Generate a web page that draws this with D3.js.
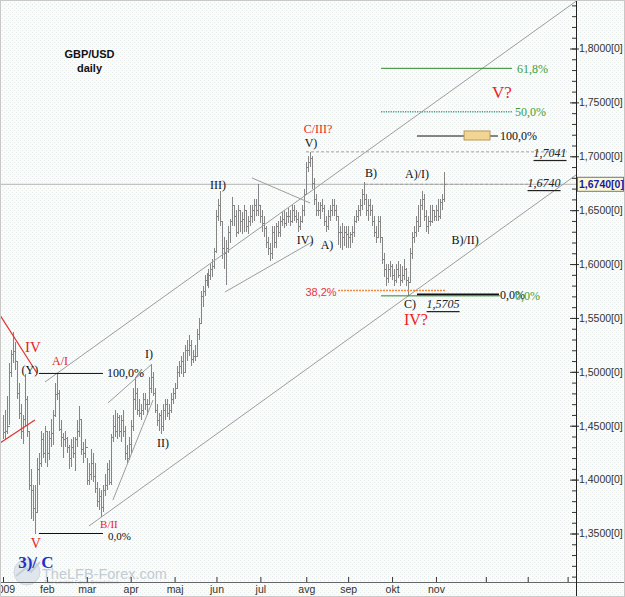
<!DOCTYPE html>
<html><head><meta charset="utf-8">
<script src="https://cdn.jsdelivr.net/npm/d3@7"></script>
<style>
html,body{margin:0;padding:0;background:#fff;}
svg{display:block;}
</style></head>
<body>
<svg id="chart" width="625" height="597"></svg>
<script>
// ---------- DATA ----------
const monthTickIdx = [0,22,42,64,86,107,129,152,173,195,217,242,263,283];
const monthLabels  = ["2009","feb","mar","apr","maj","jun","jul","avg","sep","okt","nov","","",""];
const priceTicks   = [1.35,1.40,1.45,1.50,1.55,1.60,1.65,1.70,1.75,1.80];
const firstOpen = 1.4450;
const lastPrice = 1.6740;

const highs = [
1.4600,1.4650,1.4780,1.5080,1.5200,1.5370,1.5280,1.5100,1.4900,1.4700,
1.4600,1.4980,1.4780,1.4450,1.4100,1.3950,1.3950,1.4200,1.4250,1.4450,
1.4430,1.4500,1.4450,1.4450,1.4560,1.4650,1.4900,1.4985,1.4830,1.4550,
1.4430,1.4450,1.4400,1.4320,1.4380,1.4400,1.4400,1.4550,1.4680,1.4550,
1.4350,1.4380,1.4200,1.4150,1.4280,1.4250,1.4150,1.3980,1.3920,1.3900,
1.3950,1.4050,1.4150,1.4180,1.4420,1.4600,1.4650,1.4620,1.4600,1.4600,
1.4650,1.4500,1.4320,1.4400,1.4550,1.4850,1.4950,1.4850,1.4750,1.4700,
1.4800,1.4800,1.4750,1.4950,1.5070,1.5000,1.4850,1.4700,1.4620,1.4650,
1.4700,1.4750,1.4750,1.4700,1.4800,1.4850,1.4900,1.5050,1.5100,1.5150,
1.5180,1.5250,1.5300,1.5340,1.5300,1.5200,1.5250,1.5400,1.5500,1.5750,
1.5800,1.5900,1.5920,1.5950,1.6000,1.6050,1.6150,1.6500,1.6600,1.6680,
1.6400,1.6250,1.6220,1.6350,1.6420,1.6620,1.6550,1.6500,1.6550,1.6500,
1.6480,1.6550,1.6500,1.6450,1.6550,1.6550,1.6600,1.6600,1.6740,1.6550,
1.6500,1.6450,1.6350,1.6250,1.6200,1.6350,1.6350,1.6380,1.6400,1.6450,
1.6480,1.6500,1.6480,1.6520,1.6500,1.6550,1.6550,1.6500,1.6480,1.6450,
1.6550,1.6700,1.6950,1.7000,1.7041,1.7000,1.6800,1.6650,1.6580,1.6580,
1.6600,1.6550,1.6450,1.6500,1.6550,1.6600,1.6600,1.6550,1.6450,1.6350,
1.6380,1.6350,1.6350,1.6350,1.6300,1.6350,1.6450,1.6500,1.6550,1.6600,
1.6700,1.6760,1.6650,1.6600,1.6600,1.6550,1.6450,1.6350,1.6450,1.6450,
1.6250,1.6100,1.6000,1.6000,1.6030,1.6000,1.5950,1.6000,1.6030,1.6000,
1.5980,1.6050,1.5960,1.5880,1.6150,1.6300,1.6350,1.6450,1.6550,1.6600,
1.6680,1.6650,1.6500,1.6450,1.6550,1.6550,1.6500,1.6550,1.6600,1.6600,
1.6650,1.6850];

const lows = [
1.4380,1.4380,1.4420,1.4510,1.4950,1.5080,1.5020,1.4750,1.4560,1.4380,
1.4330,1.4500,1.4400,1.3900,1.3630,1.3620,1.3500,1.3700,1.3950,1.4120,
1.4200,1.4150,1.4120,1.4180,1.4300,1.4320,1.4580,1.4740,1.4450,1.4300,
1.4200,1.4300,1.4250,1.4100,1.4120,1.4200,1.4080,1.4300,1.4400,1.4230,
1.4150,1.4200,1.3950,1.3950,1.4000,1.3980,1.3880,1.3750,1.3720,1.3650,
1.3700,1.3850,1.3900,1.3950,1.3950,1.4350,1.4400,1.4380,1.4400,1.4350,
1.4400,1.4180,1.4150,1.4180,1.4250,1.4450,1.4650,1.4600,1.4580,1.4550,
1.4600,1.4650,1.4600,1.4700,1.4800,1.4780,1.4620,1.4500,1.4450,1.4420,
1.4450,1.4550,1.4580,1.4550,1.4620,1.4700,1.4750,1.4850,1.4950,1.4980,
1.4950,1.5000,1.5100,1.5150,1.5050,1.5080,1.5100,1.5150,1.5300,1.5450,
1.5600,1.5700,1.5800,1.5780,1.5850,1.5880,1.5950,1.6100,1.6400,1.6350,
1.6050,1.5950,1.5810,1.6100,1.6200,1.6350,1.6350,1.6250,1.6280,1.6300,
1.6280,1.6300,1.6300,1.6280,1.6350,1.6380,1.6400,1.6450,1.6450,1.6380,
1.6300,1.6250,1.6150,1.6080,1.6030,1.6050,1.6150,1.6150,1.6250,1.6250,
1.6350,1.6330,1.6350,1.6380,1.6350,1.6380,1.6400,1.6380,1.6300,1.6320,
1.6380,1.6450,1.6650,1.6850,1.6900,1.6700,1.6550,1.6450,1.6450,1.6420,
1.6480,1.6350,1.6300,1.6320,1.6400,1.6450,1.6450,1.6400,1.6180,1.6150,
1.6130,1.6170,1.6150,1.6150,1.6150,1.6200,1.6250,1.6380,1.6400,1.6450,
1.6500,1.6550,1.6450,1.6400,1.6450,1.6350,1.6250,1.6200,1.6250,1.6200,
1.6000,1.5880,1.5800,1.5820,1.5880,1.5850,1.5800,1.5820,1.5870,1.5800,
1.5820,1.5850,1.5800,1.5705,1.5820,1.6050,1.6200,1.6250,1.6300,1.6350,
1.6500,1.6400,1.6300,1.6280,1.6350,1.6380,1.6400,1.6400,1.6400,1.6420,
1.6500,1.6580];

const closes = [
1.4440,1.4450,1.4500,1.5000,1.5170,1.5190,1.5100,1.4800,1.4620,1.4450,
1.4560,1.4750,1.4450,1.3950,1.3900,1.3740,1.3700,1.4100,1.4150,1.4380,
1.4250,1.4450,1.4250,1.4390,1.4430,1.4600,1.4790,1.4800,1.4470,1.4400,
1.4380,1.4390,1.4300,1.4200,1.4300,1.4250,1.4380,1.4450,1.4560,1.4280,
1.4250,1.4300,1.4000,1.4050,1.4150,1.4030,1.3920,1.3800,1.3850,1.3750,
1.3900,1.3950,1.4100,1.3980,1.4400,1.4500,1.4450,1.4580,1.4450,1.4550,
1.4450,1.4250,1.4200,1.4330,1.4500,1.4750,1.4800,1.4650,1.4620,1.4650,
1.4750,1.4700,1.4700,1.4850,1.4950,1.4800,1.4650,1.4550,1.4600,1.4500,
1.4650,1.4700,1.4620,1.4650,1.4750,1.4800,1.4850,1.5000,1.5050,1.5100,
1.5000,1.5200,1.5200,1.5250,1.5120,1.5150,1.5150,1.5350,1.5450,1.5700,
1.5750,1.5850,1.5870,1.5900,1.5950,1.5980,1.6120,1.6450,1.6550,1.6400,
1.6150,1.6100,1.6150,1.6300,1.6400,1.6550,1.6450,1.6300,1.6500,1.6400,
1.6420,1.6500,1.6350,1.6400,1.6450,1.6500,1.6550,1.6500,1.6550,1.6450,
1.6380,1.6330,1.6200,1.6150,1.6100,1.6300,1.6200,1.6350,1.6300,1.6400,
1.6420,1.6380,1.6450,1.6450,1.6400,1.6500,1.6450,1.6420,1.6350,1.6400,
1.6500,1.6650,1.6900,1.6950,1.6980,1.6750,1.6600,1.6500,1.6500,1.6550,
1.6520,1.6400,1.6350,1.6450,1.6500,1.6550,1.6500,1.6450,1.6300,1.6300,
1.6250,1.6300,1.6280,1.6250,1.6280,1.6300,1.6400,1.6450,1.6500,1.6550,
1.6650,1.6600,1.6500,1.6550,1.6500,1.6400,1.6300,1.6250,1.6400,1.6250,
1.6050,1.5950,1.5870,1.5950,1.5980,1.5900,1.5850,1.5950,1.5900,1.5850,
1.5900,1.5950,1.5850,1.5830,1.6100,1.6250,1.6300,1.6400,1.6350,1.6550,
1.6600,1.6450,1.6350,1.6400,1.6400,1.6500,1.6450,1.6500,1.6450,1.6580,
1.6600,1.6740];

// trend / channel lines in (bar index, price)
const greyLines = [
  [[21.05,1.4906],[287.2,1.8438]],
  [[43.1,1.3570],[287.2,1.6826]],
  [[52.6,1.4711],[74.7,1.5073]],
  [[55.1,1.3811],[75.2,1.4739]],
  [[111.3,1.5741],[154.9,1.6205]],
  [[124.8,1.6799],[153.9,1.6567]]
];
const redLines = [
  [[-1.5,1.5527],[17.0,1.4989]],
  [[-1.5,1.4340],[16.0,1.4553]]
];
const dashedLevels = [
  {p:1.7041, i0:151.9, i1:282.7},
  {p:1.6740, i0:181.5, i1:264.2}
];
// fibonacci tool lines
const fibLines = [
  {p:1.4985, i0:18.0, i1:50.1, color:"#111", w:1, dash:null},
  {p:1.3500, i0:18.0, i1:50.1, color:"#111", w:1, dash:null},
  {p:1.7816, i0:189.5, i1:255.1, color:"#2d8b2d", w:1, dash:null},
  {p:1.7413, i0:189.5, i1:255.1, color:"#3aa08a", w:1.6, dash:"1.2,1.2"},
  {p:1.5705, i0:189.5, i1:249.1, color:"#2d8b2d", w:1, dash:null},
  {p:1.5719, i0:207.5, i1:248.6, color:"#111", w:1.6, dash:null},
  {p:1.7188, i0:207.5, i1:248.1, color:"#111", w:1, dash:null},
  {p:1.5755, i0:167.9, i1:221.6, color:"#f2893a", w:1.6, dash:"2,1"}
];
const targetBox = {i0:231.1, i1:244.1, p0:1.7151, p1:1.7235};

const redLabels = [
  {t:"IV", i:15.0, p:1.5230, s:15},
  {t:"A/I", i:28.6, p:1.5100, s:12},
  {t:"V", i:16.5, p:1.3410, s:14},
  {t:"B/II", i:53.1, p:1.3590, s:11},
  {t:"C/III?", i:157.9, p:1.7253, s:12},
  {t:"V?", i:250.1, p:1.7596, s:17},
  {t:"IV?", i:207.0, p:1.5490, s:16}
];
const blackLabels = [
  {t:"(Y)", i:13.5, p:1.5017},
  {t:"I)", i:73.2, p:1.5165},
  {t:"II)", i:80.2, p:1.4340},
  {t:"III)", i:107.8, p:1.6734},
  {t:"IV)", i:151.4, p:1.6223},
  {t:"V)", i:154.4, p:1.7123},
  {t:"A)", i:162.4, p:1.6177},
  {t:"B)", i:184.5, p:1.6845},
  {t:"A)/I)", i:207.5, p:1.6836},
  {t:"B)/II)", i:231.6, p:1.6223},
  {t:"C)", i:204.0, p:1.5629}
];
const fibTexts = [
  {t:"100,0%", i:52.1, p:1.4989, c:"#111", s:12},
  {t:"0,0%", i:52.6, p:1.3480, c:"#111", s:11},
  {t:"100,0%", i:249.1, p:1.7188, c:"#111", s:12},
  {t:"61,8%", i:257.6, p:1.7810, c:"#3aa03a", s:12},
  {t:"50,0%", i:256.6, p:1.7413, c:"#3aa03a", s:12},
  {t:"0,0%", i:249.1, p:1.5713, c:"#111", s:12},
  {t:"0,0%", i:256.6, p:1.5704, c:"#3aa03a", s:12}
];
const priceNotes = [
  {t:"1,5705", i:220.6, p:1.5629},
  {t:"1,7041", i:274.2, p:1.7031},
  {t:"1,6740", i:271.2, p:1.6752}
];

// ---------- CHART ----------
const W = 625, H = 597, plotR = 576, plotB = 582;
const svg = d3.select("#chart");
const x = d3.scaleLinear().domain([0, 287]).range([3, 575.6]);
const y = d3.scaleLinear().domain([1.305, 1.845]).range([plotB, 0]);

const defs = svg.append("defs");
const pat = defs.append("pattern").attr("id","dots").attr("width",4).attr("height",4).attr("patternUnits","userSpaceOnUse");
pat.append("rect").attr("width",4).attr("height",4).attr("fill","#fafbfb");
pat.append("rect").attr("x",0).attr("y",0).attr("width",1).attr("height",1).attr("fill","#e2eaee");
pat.append("rect").attr("x",2).attr("y",2).attr("width",1).attr("height",1).attr("fill","#ebeee6");
defs.append("clipPath").attr("id","plotclip").append("rect").attr("x",0).attr("y",0).attr("width",plotR).attr("height",plotB);

svg.append("rect").attr("width",W).attr("height",H).attr("fill","url(#dots)");

// watermark
const wm = svg.append("g");
wm.append("circle").attr("cx",27).attr("cy",572).attr("r",13).attr("fill","#dfe6ec").attr("stroke","#cfd8e0");
wm.append("path").attr("d","M16,576 L26,568 L31,572 L40,562").attr("fill","none").attr("stroke","#c4ced8").attr("stroke-width",2);
wm.append("text").attr("x",42).attr("y",578.5).attr("font-family","Liberation Sans, Arial, sans-serif")
  .attr("font-size",14.5).attr("fill","#c3cbd3").text("TheLFB-Forex.com");
wm.append("text").attr("x",44).attr("y",584).attr("font-family","Liberation Sans, Arial, sans-serif")
  .attr("font-size",5.5).attr("fill","#cbd0d6").text("The London Forex Broadsheet");

const plot = svg.append("g").attr("clip-path","url(#plotclip)");

plot.append("line").attr("x1",0).attr("x2",plotR).attr("y1",y(lastPrice)).attr("y2",y(lastPrice))
  .attr("stroke","#b4b4b4").attr("stroke-width",1);

plot.selectAll(".dl").data(dashedLevels).join("line")
  .attr("x1",d=>x(d.i0)).attr("x2",d=>x(d.i1)).attr("y1",d=>y(d.p)).attr("y2",d=>y(d.p))
  .attr("stroke","#a0a0a0").attr("stroke-dasharray","3,2");

// bars
const bars = highs.map((h,i)=>({i, h, l:lows[i], c:closes[i], o: i===0 ? firstOpen : closes[i-1]}));
const bg = plot.append("g").attr("stroke","#858585").attr("stroke-width",1).attr("shape-rendering","crispEdges");
bars.forEach(b=>{
  const cx = Math.round(x(b.i)) + 0.5;
  bg.append("line").attr("x1",cx).attr("x2",cx).attr("y1",y(b.h)).attr("y2",y(b.l));
  bg.append("line").attr("x1",cx-1).attr("x2",cx).attr("y1",Math.round(y(b.o))+0.5).attr("y2",Math.round(y(b.o))+0.5);
  bg.append("line").attr("x1",cx).attr("x2",cx+1).attr("y1",Math.round(y(b.c))+0.5).attr("y2",Math.round(y(b.c))+0.5);
});

const lineGen = d3.line().x(d=>x(d[0])).y(d=>y(d[1]));
plot.selectAll(".gl").data(greyLines).join("path").attr("d",lineGen)
  .attr("fill","none").attr("stroke","#9c9c9c").attr("stroke-width",1);
plot.selectAll(".rl").data(redLines).join("path").attr("d",lineGen)
  .attr("fill","none").attr("stroke","#e83030").attr("stroke-width",1.2);

plot.selectAll(".fl").data(fibLines).join("line")
  .attr("x1",d=>x(d.i0)).attr("x2",d=>x(d.i1)).attr("y1",d=>y(d.p)).attr("y2",d=>y(d.p))
  .attr("stroke",d=>d.color).attr("stroke-width",d=>d.w).attr("stroke-dasharray",d=>d.dash);
plot.append("rect").attr("x",x(targetBox.i0)).attr("y",y(targetBox.p1))
  .attr("width",x(targetBox.i1)-x(targetBox.i0)).attr("height",y(targetBox.p0)-y(targetBox.p1))
  .attr("fill","#f2d592").attr("stroke","#b89a5a").attr("stroke-width",1);

const serif = "Liberation Serif, Times New Roman, serif";
plot.selectAll(".rt").data(redLabels).join("text")
  .attr("x",d=>x(d.i)).attr("y",d=>y(d.p)).attr("text-anchor","middle").attr("dominant-baseline","central")
  .attr("font-family",serif).attr("font-size",d=>d.s).attr("fill","#ee2222").text(d=>d.t);
plot.selectAll(".bt").data(blackLabels).join("text")
  .attr("x",d=>x(d.i)).attr("y",d=>y(d.p)).attr("text-anchor","middle").attr("dominant-baseline","central")
  .attr("font-family",serif).attr("font-size",12).attr("fill","#111").text(d=>d.t);
plot.selectAll(".ft").data(fibTexts).join("text")
  .attr("x",d=>x(d.i)).attr("y",d=>y(d.p)).attr("dominant-baseline","central")
  .attr("font-family",serif).attr("font-size",d=>d.s).attr("fill",d=>d.c).text(d=>d.t);
plot.append("text").attr("x",x(159.4)).attr("y",y(1.5744)).attr("text-anchor","middle").attr("dominant-baseline","central")
  .attr("font-family","Liberation Sans, Arial, sans-serif").attr("font-size",11).attr("fill","#ee3333").text("38,2%");
plot.selectAll(".pn").data(priceNotes).join("text")
  .attr("x",d=>x(d.i)).attr("y",d=>y(d.p)).attr("text-anchor","middle").attr("dominant-baseline","central")
  .attr("font-family",serif).attr("font-style","italic").attr("font-size",12).attr("fill","#222")
  .attr("text-decoration","underline").text(d=>d.t);

svg.append("text").attr("x",89.5).attr("y",58).attr("text-anchor","middle")
  .attr("font-family","Liberation Sans, Arial, sans-serif").attr("font-weight","bold").attr("font-size",11)
  .attr("fill","#111").text("GBP/USD");
svg.append("text").attr("x",89.5).attr("y",72).attr("text-anchor","middle")
  .attr("font-family","Liberation Sans, Arial, sans-serif").attr("font-weight","bold").attr("font-size",11)
  .attr("fill","#111").text("daily");

svg.append("text").attr("x",x(16.5)).attr("y",y(1.3235)).attr("text-anchor","middle").attr("dominant-baseline","central")
  .attr("font-family",serif).attr("font-weight","bold").attr("font-size",17).attr("fill","#2233c0").text("3)/ C");

// ---------- AXES ----------
const axisFont = "Liberation Sans, Arial, sans-serif";
const minorVals = d3.range(131, 185).map(v=>v/100);
const gMinor = svg.append("g").attr("transform",`translate(${plotR},0)`)
  .call(d3.axisLeft(y).tickValues(minorVals).tickSize(4).tickFormat(""));
gMinor.select(".domain").remove();
gMinor.selectAll("line").attr("stroke","#333");
const gMajor = svg.append("g").attr("transform",`translate(${plotR+3},0)`)
  .call(d3.axisLeft(y).tickValues(priceTicks).tickSize(9).tickFormat(""));
gMajor.select(".domain").remove();
gMajor.selectAll("line").attr("stroke","#333");
const gLab = svg.append("g").attr("transform",`translate(${plotR+1},0)`)
  .call(d3.axisRight(y).tickValues(priceTicks).tickSize(0).tickPadding(2)
    .tickFormat(d=>d3.format(".4f")(d).replace(".",",")+"[0]"));
gLab.select(".domain").remove();
gLab.selectAll("text").attr("font-family",axisFont).attr("font-size",10.5).attr("fill","#333");

const gxt = svg.append("g").attr("transform",`translate(0,${plotB})`)
  .call(d3.axisTop(x).tickValues(monthTickIdx).tickSize(5).tickFormat(""));
gxt.select(".domain").remove();
gxt.selectAll("line").attr("stroke","#333");
const gxl = svg.append("g").attr("transform",`translate(0,${plotB})`)
  .call(d3.axisBottom(x).tickValues(monthTickIdx).tickSize(0).tickPadding(4).tickFormat((d,i)=>monthLabels[i]));
gxl.select(".domain").remove();
gxl.selectAll("text").attr("font-family",axisFont).attr("font-size",10.5).attr("fill","#333");

svg.append("line").attr("x1",0).attr("x2",W).attr("y1",plotB+0.5).attr("y2",plotB+0.5).attr("stroke","#666");
svg.append("line").attr("x1",plotR+0.5).attr("x2",plotR+0.5).attr("y1",0).attr("y2",H).attr("stroke","#222");

const lp = svg.append("g");
lp.append("rect").attr("x",plotR+1.5).attr("y",y(lastPrice)-7).attr("width",W-plotR-3).attr("height",14)
  .attr("fill","#fbf8d6").attr("stroke","#777");
lp.append("text").attr("x",plotR+3).attr("y",y(lastPrice)).attr("dominant-baseline","central")
  .attr("font-family",axisFont).attr("font-weight","bold").attr("font-size",10.5).attr("fill","#1a1aa8")
  .text(d3.format(".4f")(lastPrice).replace(".",",")+"[0]");

svg.append("rect").attr("x",0.5).attr("y",0.5).attr("width",W-1).attr("height",H-1)
  .attr("fill","none").attr("stroke","#c8c8c8");
</script>
</body></html>
